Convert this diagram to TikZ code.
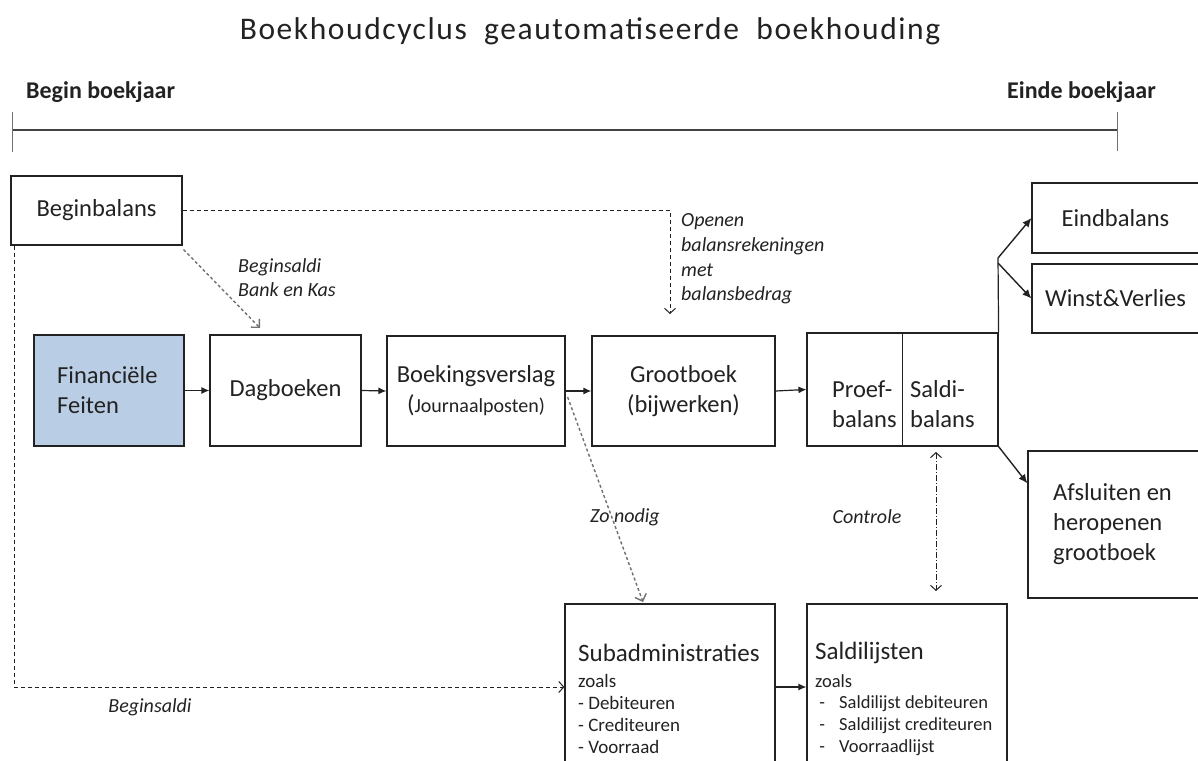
\documentclass[tikz,border=0pt]{standalone}
\usepackage{fontspec}
\setmainfont{Carlito}
\newfontfamily\titlefont{Carlito}[LetterSpace=5]
\usetikzlibrary{arrows.meta,calc}
\definecolor{ink}{HTML}{222222}
\definecolor{lgray}{HTML}{707070}
\definecolor{feit}{HTML}{B9CDE5}
\begin{document}
\begin{tikzpicture}[x=1pt,y=-1pt,
  box/.style={draw=ink, line width=1.2pt, inner sep=0pt, align=center, text=ink,
    font=\fontsize{24.5}{30}\selectfont},
  txt/.style={inner sep=0pt, align=left, text=ink, font=\fontsize{24.5}{30}\selectfont},
  lbl/.style={inner sep=0pt, align=left, text=ink, font=\fontsize{20}{24.7}\selectfont\itshape},
  head/.style={inner sep=0pt, text=ink, font=\fontsize{24}{28}\selectfont\bfseries},
  small/.style={inner sep=0pt, align=left, text=ink},
  flow/.style={draw=ink, line width=1.2pt, -{Latex[length=8pt,width=7pt]}},
  fan/.style={draw=ink, line width=1.4pt, -{Latex[length=9pt,width=8pt]}},
  dsh/.style={draw=ink, line width=1pt, dash pattern=on 4pt off 3pt,
    -{Straight Barb[length=5pt,width=11pt]}},
  gdsh/.style={draw=lgray, line width=1.4pt, dash pattern=on 3pt off 2.5pt,
    -{Straight Barb[length=6pt,width=12pt]}},
  ddot/.style={draw=ink, line width=1pt, dash pattern=on 6pt off 2pt on 1pt off 2pt,
    {Straight Barb[length=5pt,width=11pt]}-{Straight Barb[length=5pt,width=11pt]}},
  tick/.style={draw=lgray, line width=1pt}
]
\useasboundingbox[fill=white] (0,0) rectangle (1198,760);
\clip (0,0) rectangle (1198,760);

% title and timeline
\node[inner sep=0pt, text=ink, font=\fontsize{31.5}{36}\selectfont\titlefont] (title) at (590,31)
  {Boekhoudcyclus\ \ geautomatiseerde\ \ boekhouding};
\node[head, anchor=west] (begin) at (26,92) {Begin boekjaar};
\node[head, anchor=west] (einde) at (1007,92) {Einde boekjaar};
\coordinate (tl) at (12,130);
\coordinate (tr) at (1117,130);
\draw[draw=ink!85, line width=1.4pt] (tl) -- (tr);
\draw[tick] (12,112) -- (12,152);
\draw[tick] (1117,112) -- (1117,151);

% boxes
\node[box, minimum width=171pt, minimum height=69pt] (bb) at (96.5,210.5) {Beginbalans};
\node[box, fill=feit, minimum width=150pt, minimum height=111pt] (ff) at (109,390.5) {};
\node[txt, anchor=west] (fft) at (57,390) {Financiële\\Feiten};
\node[box, minimum width=151pt, minimum height=111pt] (db) at (285.5,390.5) {Dagboeken};
\node[box, minimum width=178pt, minimum height=110pt] (bv) at (476,391)
  {Boekingsverslag\\(\fontsize{20}{30}\selectfont Journaalposten)};
\node[box, minimum width=183pt, minimum height=110pt] (gb) at (683.5,391) {Grootboek\\(bijwerken)};
\node[box, minimum width=191pt, minimum height=113pt] (pr) at (902.5,389.5) {};
\draw[draw=ink, line width=1.2pt] (pr.north) -- (pr.south);
\node[txt, anchor=west] (prt) at (832,404) {Proef-\\balans};
\node[txt, anchor=west] (sdt) at (910,404) {Saldi-\\balans};

\node[box, minimum width=167pt, minimum height=70pt] (eb) at (1115.5,218) {Eindbalans};
\node[box, minimum width=167pt, minimum height=69pt] (ws) at (1115.5,298.5) {Winst\&Verlies};
\node[box, minimum width=171pt, minimum height=147pt] (af) at (1113.5,524.5) {};
\node[txt, anchor=west] (aft) at (1053,524) {Afsluiten en\\heropenen\\grootboek};

\node[box, minimum width=210pt, minimum height=166pt] (sub) at (670,687) {};
\node[txt, anchor=west, font=\fontsize{25}{30}\selectfont] (subt) at (578,653) {Subadministraties};
\node[small, anchor=west, font=\fontsize{19}{21.7}\selectfont] (subl) at (578,714)
  {zoals\\- Debiteuren\\- Crediteuren\\- Voorraad};
\node[box, minimum width=200pt, minimum height=166pt] (sl) at (907,687) {};
\node[txt, anchor=west, font=\fontsize{25}{30}\selectfont] (slt) at (815,653) {Saldilijsten};
\node[small, anchor=west, font=\fontsize{18.5}{21.7}\selectfont] (sll) at (815,715)
  {zoals\\\makebox[24pt][l]{\ -}Saldilijst debiteuren\\\makebox[24pt][l]{\ -}Saldilijst crediteuren\\\makebox[24pt][l]{\ -}Voorraadlijst};

% labels
\node[lbl, anchor=west] (l1) at (238,277.5) {Beginsaldi\\Bank en Kas};
\node[lbl, anchor=west] (l2) at (681,259) {Openen\\balansrekeningen\\met\\balansbedrag};
\node[lbl] (l3) at (625,517) {Zo nodig};
\node[lbl] (l4) at (867,517) {Controle};
\node[lbl] (l5) at (150,707) {Beginsaldi};

% main flow
\draw[flow] (ff.east) -- (db.west);
\draw[flow] (db.east) -- (bv.west);
\draw[flow] (bv.east) -- (gb.west);
\draw[flow] (gb.east) -- (pr.west);
\draw[flow] (sub.east) -- (sl.west);

% fan to the right
\coordinate (ftop) at (998,258);
\draw[draw=ink, line width=1.2pt] (ftop) -- (pr.north east);
\draw[fan] (ftop) -- (eb.west);
\draw[fan] ($(ftop)+(0,5)$) -- (ws.west);
\draw[fan] (pr.south east) -- ($(af.north west)+(0,33)$);

% dashed connectors
\coordinate (ogtip) at (670,314);
\draw[dsh] (bb.east) -| (ogtip);
\coordinate (dbtip) at (260,328);
\draw[gdsh] ($(bb.south east)+(1,4)$) -- (dbtip);
\draw[dsh] ($(bb.south west)+(4,0)$) |- (sub.west);
\coordinate (zntip) at (643,602);
\draw[gdsh] ($(bv.east)+(2,6)$) -- (zntip);
\coordinate (ctop) at (936,452);
\coordinate (cbot) at (936,591);
\draw[ddot] (ctop) -- (cbot);
\end{tikzpicture}
\end{document}
